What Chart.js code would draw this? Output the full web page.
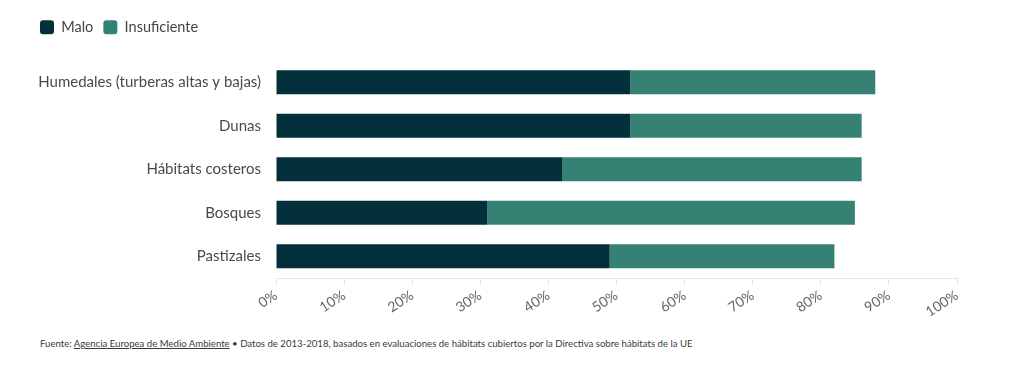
<!DOCTYPE html>
<html><head><meta charset="utf-8">
<script src="https://cdn.jsdelivr.net/npm/chart.js@4.4.1/dist/chart.umd.min.js"></script>
<style>
html,body{margin:0;padding:0;background:#fff;}
#wrap{position:relative;width:1024px;height:330px;}
#foot{position:absolute;left:40px;top:338px;font-family:Lato,"Open Sans",sans-serif;font-size:9.6px;color:#3a3a3a;white-space:nowrap;}
#foot a{color:#3a3a3a;text-decoration:underline;}
</style></head>
<body>
<div id="wrap"><canvas id="c"></canvas></div>
<div id="foot">Fuente: <a>Agencia Europea de Medio Ambiente</a> • Datos de 2013-2018, basados en evaluaciones de hábitats cubiertos por la Directiva sobre hábitats de la UE</div>
<script>
const categories = ["Humedales (turberas altas y bajas)", "Dunas", "Hábitats costeros", "Bosques", "Pastizales"];
const malo = [52, 52, 42, 31, 49];
const insuficiente = [36, 34, 44, 54, 33];
const seriesNames = ["Malo", "Insuficiente"];
const xTicks = [0,10,20,30,40,50,60,70,80,90,100];

const FONT = 'Lato, "Open Sans", sans-serif';
const legendPad = {
  id: 'legendPad',
  afterInit(chart) {
    const lg = chart.legend;
    if (lg) {
      const f = lg.fit;
      lg.fit = function() { f.call(this); this.height += 16; };
    }
  }
};
new Chart(document.getElementById('c'), {
  type: 'bar',
  data: {
    labels: categories,
    datasets: [
      {label: seriesNames[0], data: malo, backgroundColor: '#03303b', barPercentage: 0.55, categoryPercentage: 1},
      {label: seriesNames[1], data: insuficiente, backgroundColor: '#358274', barPercentage: 0.55, categoryPercentage: 1}
    ]
  },
  plugins: [legendPad],
  options: {
    indexAxis: 'y',
    responsive: true,
    maintainAspectRatio: false,
    animation: false,
    layout: {padding: {left: 30, right: 67, top: 10, bottom: 0}},
    plugins: {
      legend: {
        position: 'top', align: 'start',
        labels: {boxWidth: 14, boxHeight: 14, useBorderRadius: true, borderRadius: 3, padding: 10,
          color: '#444', font: {family: FONT, size: 14.5}}
      },
      tooltip: {enabled: false}
    },
    scales: {
      x: {
        stacked: true, min: 0, max: 100,
        afterBuildTicks: s => { s.ticks = xTicks.map(v => ({value: v})); },
        afterFit: s => { s.height = 52; },
        grid: {drawOnChartArea: false, drawTicks: true, tickLength: 7, color: '#e6e6e6'},
        border: {display: true, color: '#e6e6e6'},
        ticks: {minRotation: 33, maxRotation: 33, padding: 2, color: '#666', font: {family: FONT, size: 14},
          callback: v => v + '%'}
      },
      y: {
        stacked: true,
        afterFit: s => { s.width = 246; },
        grid: {display: false, drawTicks: false},
        border: {display: false},
        ticks: {padding: 15, color: '#4a4a4a', font: {family: FONT, size: 15}}
      }
    }
  }
});
</script>
</body></html>
